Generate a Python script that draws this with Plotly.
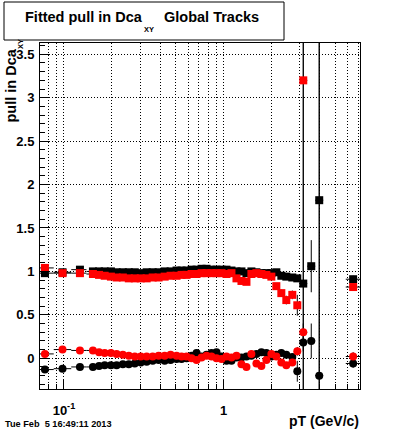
import numpy as np
import plotly.graph_objects as go

# ---------------- data ----------------
pt = [0.076, 0.098, 0.126, 0.152, 0.166, 0.180, 0.197, 0.214, 0.234, 0.255,
      0.278, 0.303, 0.330, 0.360, 0.392, 0.428, 0.466, 0.508, 0.546, 0.587,
      0.631, 0.678, 0.729, 0.783, 0.841, 0.904, 0.972, 1.044, 1.122, 1.206,
      1.296, 1.393, 1.496, 1.608, 1.728, 1.857, 1.995, 2.144, 2.304, 2.476,
      2.699, 2.901, 3.162, 3.548, 3.981, 6.494]

sigma_black = [0.98, 0.99, 1.02, 1.00, 1.00, 1.00, 1.00, 0.99, 0.99, 0.99,
               0.99, 0.98, 0.99, 0.99, 0.99, 1.00, 1.00, 1.01, 1.01, 1.01,
               1.02, 1.02, 1.03, 1.03, 1.02, 1.02, 1.02, 1.02, 1.01, 1.00,
               1.00, 0.98, 1.00, 0.99, 0.98, 0.98, 0.98, 0.99, 0.95, 0.94,
               0.93, 0.92, 0.86, 1.06, 1.82, 0.91]
sigma_red = [1.04, 0.98, 0.98, 0.97, 0.96, 0.95, 0.94, 0.93, 0.93, 0.92,
             0.92, 0.92, 0.92, 0.93, 0.93, 0.94, 0.95, 0.95, 0.96, 0.96,
             0.97, 0.97, 0.98, 0.98, 0.98, 0.98, 0.98, 0.97, 0.98, 0.92,
             0.89, 0.88, 0.97, 0.98, 0.97, 0.96, 0.94, 0.83, 0.75, 0.67,
             0.73, 0.61, 3.20, None, None, 0.82]
mean_black = [-0.13, -0.12, -0.10, -0.10, -0.09, -0.08, -0.08, -0.08, -0.07, -0.07,
              -0.06, -0.05, -0.04, -0.03, -0.02, -0.03, -0.02, -0.01, -0.01, 0.00,
              0.03, 0.06, 0.02, 0.04, 0.06, 0.07, 0.02, -0.03, -0.03, 0.01,
              0.01, 0.02, 0.03, 0.05, 0.07, 0.06, 0.02, 0.04, 0.06, 0.04,
              0.015, -0.15, 0.18, 0.20, -0.20, -0.06]
mean_red = [0.05, 0.10, 0.09, 0.09, 0.07, 0.06, 0.06, 0.05, 0.04, 0.03,
            0.02, 0.02, 0.02, 0.02, 0.03, 0.03, 0.04, 0.03, 0.02, 0.02,
            0.00, -0.02, 0.01, 0.03, 0.02, 0.00, -0.01, 0.02, 0.01, 0.03,
            -0.07, -0.10, 0.05, -0.06, -0.09, -0.02, 0.05, 0.02, -0.05, -0.08,
            -0.05, 0.08, 0.30, None, None, 0.02]

err_sigma_black = [0.01] * 38 + [0.02, 0.02, 0.03, 0.03, 10.0, 0.30, 10.0, 0.04]
err_sigma_red = [0.01] * 37 + [0.03, 0.04, 0.05, 0.05, 0.12, 10.0, 0.0, 0.0, 0.04]
err_mean_black = [0.01] * 41 + [0.12, 0.10, 0.20, 10.0, 0.05]
err_mean_red = [0.01] * 41 + [0.05, 0.10, 0.0, 0.0, 0.05]

last_bin_lo, last_bin_hi = 5.84, 7.2

x_major_ticks = [0.1, 1]
x_major_text = ["10<sup>-1</sup>", "1"]
x_minor_ticks = [0.08, 0.09, 0.2, 0.3, 0.4, 0.5, 0.6, 0.7, 0.8, 0.9,
                 2, 3, 4, 5, 6, 7]

title_main = "Fitted pull in Dca"
title_sub = "XY"
title_tail = "Global Tracks"
y_title = "pull in Dca"
y_title_sub = "XY"
x_title = "pT (GeV/c)"
date_text = "Tue Feb  5 16:49:11 2013"

# ---------------- bin widths (x error bars) ----------------
p = np.array(pt)
mid = np.sqrt(p[:-1] * p[1:])
lo = np.empty_like(p)
hi = np.empty_like(p)
lo[1:] = mid
lo[0] = p[0] ** 2 / mid[0]
hi[:-1] = mid
lo[-1] = last_bin_lo
hi[-1] = last_bin_hi
hi[-2] = p[-2] ** 2 / lo[-2]
ex_minus = p - lo
ex_plus = hi - p

FONT = "Liberation Sans"


def series(y, err, symbol, color):
    return go.Scatter(
        x=pt, y=y, mode="markers",
        marker=dict(symbol=symbol, size=8, color=color, line=dict(width=0)),
        error_y=dict(type="data", array=err, color="black", thickness=1, width=0),
        error_x=dict(type="data", symmetric=False, array=ex_plus,
                     arrayminus=ex_minus, color="black", thickness=1, width=0),
        hoverinfo="x+y",
    )


fig = go.Figure()
fig.add_trace(series(sigma_black, err_sigma_black, "square", "black"))
fig.add_trace(series(sigma_red, err_sigma_red, "square", "red"))
fig.add_trace(series(mean_black, err_mean_black, "circle", "black"))
fig.add_trace(series(mean_red, err_mean_red, "circle", "red"))

tickfont = dict(family=FONT, size=13, color="black", weight="bold")
DOT = "1px,2px"

fig.update_layout(
    width=400, height=433,
    margin=dict(l=40, r=40, t=43, b=44, pad=0),
    paper_bgcolor="white", plot_bgcolor="white",
    showlegend=False,
    xaxis=dict(
        type="log", range=[np.log10(0.0708), np.log10(7.17)],
        tickmode="array", tickvals=x_major_ticks, ticktext=x_major_text,
        ticks="inside", ticklen=9, tickcolor="black", tickwidth=1,
        showline=True, linecolor="black", linewidth=1, mirror=True,
        showgrid=True, gridcolor="black", gridwidth=1, griddash=DOT,
        zeroline=False, tickfont=tickfont, ticklabelstandoff=9,
        minor=dict(tickmode="array", tickvals=x_minor_ticks, ticks="inside",
                   ticklen=5, tickcolor="black", tickwidth=1,
                   showgrid=True, gridcolor="black", gridwidth=1, griddash=DOT),
    ),
    yaxis=dict(
        range=[-0.354, 3.63], tick0=0, dtick=0.5,
        ticks="inside", ticklen=9, tickcolor="black", tickwidth=1,
        showline=True, linecolor="black", linewidth=1, mirror=True,
        showgrid=True, gridcolor="black", gridwidth=1, griddash=DOT,
        zeroline=False, tickfont=tickfont, ticklabelstandoff=2,
        minor=dict(dtick=0.1, tick0=0, ticks="inside", ticklen=5,
                   tickcolor="black", tickwidth=1, showgrid=False),
    ),
)


def px_x(px):
    return (px - 40) / 320.0


def px_y(py):
    return (389 - py) / 346.0


# title box
fig.add_shape(type="rect", xref="paper", yref="paper",
              x0=px_x(4), x1=px_x(284), y0=px_y(40), y1=px_y(2),
              line=dict(color="black", width=1), fillcolor="white", layer="above")

bold = lambda s: dict(family=FONT, size=s, color="black", weight="bold")

ann = [
    dict(text=title_main, x=px_x(23), y=px_y(17), xanchor="left", yanchor="middle",
         font=bold(14.5)),
    dict(text=title_sub, x=px_x(142), y=px_y(29), xanchor="left", yanchor="middle",
         font=bold(7.5)),
    dict(text=title_tail, x=px_x(162), y=px_y(17), xanchor="left", yanchor="middle",
         font=bold(14.5)),
    dict(text=y_title, x=px_x(11), y=px_y(85.5), xanchor="center", yanchor="middle",
         textangle=-90, font=bold(14.5)),
    dict(text=y_title_sub, x=px_x(20), y=px_y(44), xanchor="center", yanchor="middle",
         textangle=-90, font=bold(7.5)),
    dict(text=x_title, x=px_x(361), y=px_y(421), xanchor="right", yanchor="middle",
         font=bold(14)),
    dict(text=date_text, x=px_x(3), y=px_y(423.5), xanchor="left", yanchor="middle",
         font=bold(9.2)),
]
for a in ann:
    fig.add_annotation(xref="paper", yref="paper", showarrow=False, **a)

fig.write_html(
    "out.html",
    config={"displayModeBar": False},
    post_script="document.body.style.margin='0';document.body.style.padding='0';"
                "document.body.style.overflow='hidden';",
)
